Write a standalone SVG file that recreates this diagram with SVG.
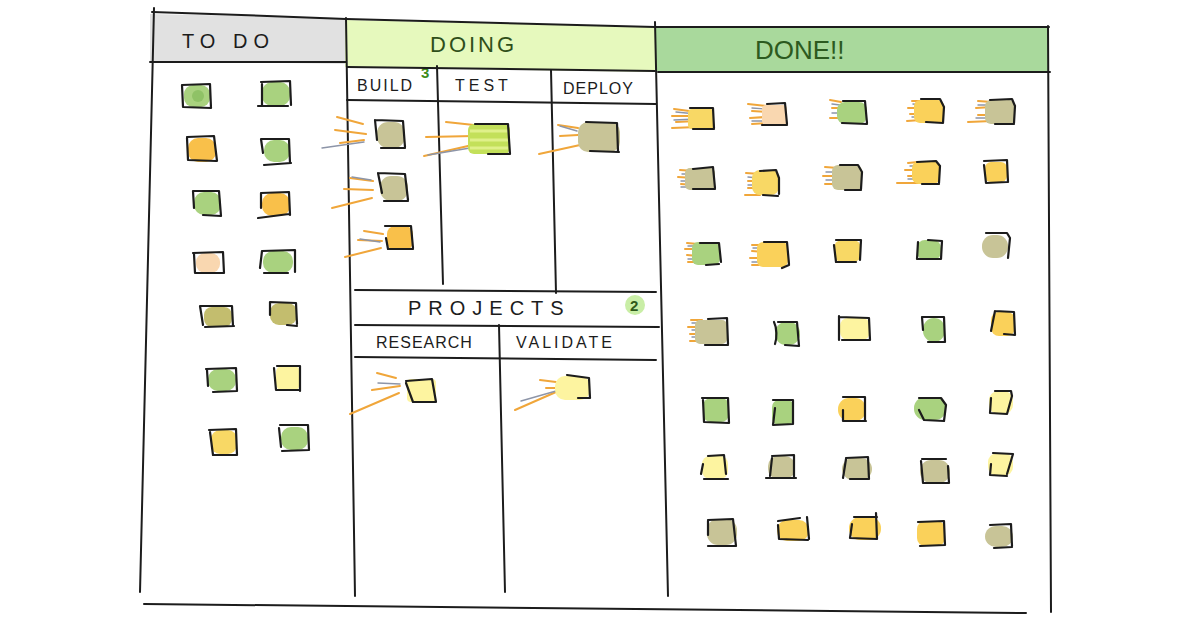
<svg xmlns="http://www.w3.org/2000/svg" width="1200" height="628" viewBox="0 0 1200 628">
<style>
.ln{fill:none;stroke:#1c1c1c;stroke-width:2;stroke-linecap:round;stroke-linejoin:round}
.bx{fill:none;stroke:#1c1c1c;stroke-width:2.2;stroke-linecap:round;stroke-linejoin:round}
.t{font-family:"Liberation Sans",Arial,sans-serif;fill:#1c1c1c;letter-spacing:2px}
.sp{fill:none;stroke:#f0a63a;stroke-width:2;stroke-linecap:round}
.sg{fill:none;stroke:#8d95a8;stroke-width:1.4;stroke-linecap:round}
.g{fill:#a9d27f}.o{fill:#f9c04a}.tn{fill:#c8c497}.pe{fill:#f9d7b0}.ol{fill:#c3bd6e}.py{fill:#fdf4a0}.y{fill:#f8d865}.yo{fill:#fad15a}.lg{fill:#c3e05a}
</style>
<rect width="1200" height="628" fill="#ffffff"/>
<g id="headers">
<polygon points="150,14 345,18 345,64 150,61" fill="#e1e1e1"/>
<polygon points="345,20 655,27 655,72 345,67" fill="#e6f9bd"/>
<polygon points="655,26 1048,27 1048,72 655,71" fill="#a9d99c"/>
<text class="t" x="182" y="48" font-size="20" style="letter-spacing:6px">TO DO</text>
<text class="t" x="430" y="52" font-size="22" style="fill:#2f4f1a;letter-spacing:3px">DOING</text>
<text class="t" x="755" y="59" font-size="26" style="fill:#2c5a20;letter-spacing:0">DONE!!</text>
<text class="t" x="357" y="91" font-size="16" style="letter-spacing:2px">BUILD</text>
<text class="t" x="421" y="78" font-size="15" font-weight="bold" style="fill:#3f8c1a;letter-spacing:0">3</text>
<text class="t" x="455" y="91" font-size="16" style="letter-spacing:4px">TEST</text>
<text class="t" x="563" y="94" font-size="16" style="letter-spacing:1px">DEPLOY</text>
<text class="t" x="408" y="315" font-size="20" style="letter-spacing:7px">PROJECTS</text>
<circle cx="635" cy="305" r="10" fill="#c9eea6"/>
<text class="t" x="630" y="311" font-size="15" font-weight="bold" style="fill:#2f5a1a;letter-spacing:0">2</text>
<text class="t" x="376" y="348" font-size="16" style="letter-spacing:1px">RESEARCH</text>
<text class="t" x="516" y="348" font-size="16" style="letter-spacing:3px">VALIDATE</text>
</g>
<g id="board">
<path class="ln" d="M152 12 Q250 15 346 19 L655 27 L1049 27"/>
<path class="ln" d="M150 62 L346 62 M347 67 L655 71 M658 72 L1050 72"/>
<path class="ln" d="M154 8 L140 592"/>
<path class="ln" d="M346 18 L355 596"/>
<path class="ln" d="M655 22 L668 596"/>
<path class="ln" d="M1048 26 L1051 612"/>
<path class="ln" d="M144 604 L1026 613"/>
<path class="ln" d="M347 100 L656 104"/>
<path class="ln" d="M437 66 L443 284"/>
<path class="ln" d="M551 70 L556 293"/>
<path class="ln" d="M355 290 L656 292"/>
<path class="ln" d="M355 325 L659 327"/>
<path class="ln" d="M355 357 L656 360"/>
<path class="ln" d="M499 325 L505 592"/>
</g>
<g id="todo-cards">
<g id="td1"><rect class="g" x="184" y="85" width="26" height="22" rx="9"/><circle cx="198" cy="96" r="6" fill="#8fc266"/><path class="bx" d="M182 85 L210 84 L211 108 L183 107 Z"/></g>
<g id="td2"><rect class="g" x="262" y="82" width="28" height="24" rx="10"/><path class="bx" d="M261 82 L290 81 L291 105 M288 106 L258 106 M262 84 L262 106"/></g>
<g id="td3"><rect class="o" x="188" y="138" width="28" height="24" rx="10"/><path class="bx" d="M187 137 L214 136 L217 161 M216 161 L188 160 L187 138"/></g>
<g id="td4"><rect class="g" x="264" y="140" width="26" height="22" rx="10"/><path class="bx" d="M261 139 L289 139 L290 163 M291 163 L264 165 M261 139 L263 153"/></g>
<g id="td5"><rect class="g" x="194" y="192" width="27" height="23" rx="10"/><path class="bx" d="M193 191 L219 191 L221 216 M221 216 L203 215 M193 191 L194 208"/></g>
<g id="td6"><rect class="o" x="262" y="193" width="28" height="23" rx="10"/><path class="bx" d="M261 193 L289 192 L290 215 M289 214 L258 218 M261 193 L261 208"/></g>
<g id="td7"><rect class="pe" x="196" y="253" width="24" height="20" rx="9"/><path class="bx" d="M193 253 L223 252 L224 273 M224 273 L195 273 L194 254"/></g>
<g id="td8"><rect class="g" x="263" y="251" width="30" height="22" rx="10"/><path class="bx" d="M262 251 L295 250 L295 272 M288 273 L264 273 M262 251 L260 268"/></g>
<g id="td9"><rect class="ol" x="204" y="307" width="28" height="20" rx="8"/><path class="bx" d="M200 306 L232 306 L233 326 M234 326 L205 327 M200 306 L203 325"/></g>
<g id="td10"><rect class="ol" x="270" y="303" width="27" height="22" rx="9"/><path class="bx" d="M270 302 L296 303 L297 324 M297 326 L287 325 M270 302 L270 315"/></g>
<g id="td11"><rect class="g" x="208" y="369" width="28" height="22" rx="10"/><path class="bx" d="M206 369 L236 368 L237 391 M237 391 L213 392 M207 370 L208 386"/></g>
<g id="td12"><rect class="py" x="276" y="366" width="24" height="24" rx="6"/><path class="bx" d="M277 366 L300 366 L300 391 M300 390 L276 390 L274 368"/></g>
<g id="td13"><rect class="y" x="211" y="430" width="26" height="24" rx="9"/><path class="bx" d="M209 430 L236 429 L237 455 M236 455 L213 455 L210 432"/></g>
<g id="td14"><rect class="g" x="281" y="427" width="27" height="23" rx="10"/><path class="bx" d="M280 425 L308 425 L309 450 M309 450 L282 451 M279 428 L281 447"/></g>
</g>
<g id="build-cards">
<g id="b1"><path class="sp" d="M337 117 L363 124 M335 130 L366 134 M340 143 L364 140"/><path class="sg" d="M322 148 L364 142"/><rect class="tn" x="377" y="122" width="28" height="26" rx="11"/><path class="bx" d="M375 120 L403 121 L405 147 M405 148 L381 148 M375 120 L377 140"/></g>
<g id="b2"><path class="sp" d="M350 178 L373 181 M344 189 L373 190 M332 208 L372 198"/><path class="sg" d="M352 177 L371 180"/><rect class="tn" x="380" y="176" width="28" height="25" rx="11"/><path class="bx" d="M378 173 L405 174 L408 200 M408 201 L384 201 M378 173 L382 193"/></g>
<g id="b3"><path class="sp" d="M364 231 L383 234 M358 240 L382 241 M345 257 L381 248"/><path class="sg" d="M360 239 L380 242"/><rect class="o" x="387" y="226" width="26" height="24" rx="8"/><path class="bx" d="M385 226 L411 226 L413 248 M413 249 L388 249 L386 238"/></g>
</g>
<g id="test-card">
<path class="sp" d="M446 122 L474 125 M426 137 L474 136 M424 156 L468 146"/>
<path class="sg" d="M428 155 L470 148"/>
<rect class="lg" x="468" y="124" width="42" height="30" rx="6"/>
<path d="M470 131 H508 M470 140 H508 M470 148 H508" stroke="#dff08a" stroke-width="3"/>
<path class="bx" d="M475 124 L508 124 L510 154 M510 154 L488 154"/>
</g>
<g id="deploy-card">
<path class="sp" d="M558 125 L578 128 M560 136 L578 135 M539 154 L580 145"/>
<path class="sg" d="M560 126 L577 131"/>
<rect class="tn" x="578" y="122" width="42" height="30" rx="10"/>
<path class="bx" d="M586 122 L617 123 L618 151 M619 152 L590 151"/>
</g>
<g id="research-card">
<path class="sp" d="M377 373 L396 378 M372 390 L400 386 M350 414 L399 393"/>
<path class="sg" d="M378 383 L400 384"/>
<rect class="py" x="407" y="379" width="29" height="23" rx="4"/>
<path class="bx" d="M406 381 L432 379 L436 402 M436 402 L413 402 L406 383"/>
</g>
<g id="validate-card">
<path class="sp" d="M540 380 L556 382 M546 388 L556 388 M515 410 L556 392"/>
<path class="sg" d="M521 401 L556 391"/>
<rect class="py" x="555" y="376" width="35" height="24" rx="10"/>
<path class="bx" d="M567 375 L589 378 L590 398 M590 398 L578 398"/>
</g>
<g id="done-cards">
<g id="d1"><path class="sp" d="M674 109 L697 112 M672 116 L697 116 M676 122 L697 121 M672 128 L697 127"/><path class="sg" d="M676 112 L696 114 M674 120 L696 119"/><rect class="y" x="688" y="109" width="26" height="20" rx="4"/><path class="bx" d="M690 108 L713 108 L714 128 M714 129 L693 129"/></g>
<g id="d2"><path class="sp" d="M748 104 L767 106 M752 111 L767 112 M750 118 L766 117 M752 124 L768 123"/><path class="sg" d="M752 108 L766 109 M752 121 L766 121"/><rect class="pe" x="762" y="105" width="25" height="20" rx="4"/><path class="bx" d="M767 104 L785 103 L787 124 M787 125 L762 125"/></g>
<g id="d3"><path class="sp" d="M830 100 L841 102 M832 108 L842 108 M830 118 L842 118"/><path class="sg" d="M832 104 L840 105 M832 113 L841 113"/><rect class="g" x="837" y="102" width="30" height="22" rx="8"/><path class="bx" d="M843 101 L865 101 L867 123 M867 124 L842 123"/></g>
<g id="d4"><path class="sp" d="M912 101 L921 101 M908 108 L922 108 M910 114 L922 114 M907 121 L921 120"/><path class="sg" d="M913 104 L921 105 M912 117 L921 117"/><rect class="yo" x="914" y="100" width="30" height="23" rx="6"/><path class="bx" d="M921 99 L940 99 L944 107 L943 123 M943 123 L926 122"/></g>
<g id="d5"><path class="sp" d="M978 101 L992 102 M976 108 L992 107 M978 115 L992 115 M968 122 L992 121"/><path class="sg" d="M978 105 L990 105 M976 118 L990 118"/><rect class="tn" x="985" y="100" width="30" height="24" rx="6"/><path class="bx" d="M990 100 L1012 99 L1015 106 L1014 123 M1014 124 L995 124"/></g>
<g id="d6"><path class="sp" d="M680 170 L694 171 M678 177 L694 178 M681 184 L694 185"/><path class="sg" d="M682 174 L694 174 M681 181 L694 181 M681 187 L694 187"/><rect class="tn" x="685" y="168" width="30" height="22" rx="5"/><path class="bx" d="M693 169 L713 167 L715 188 M715 189 L693 189"/></g>
<g id="d7"><path class="sp" d="M746 173 L760 174 M748 181 L760 181 M748 188 L760 188 M745 195 L760 195"/><path class="sg" d="M748 177 L758 178 M748 185 L758 185"/><rect class="y" x="752" y="170" width="27" height="25" rx="8"/><path class="bx" d="M760 171 L776 170 L779 178 L779 194 M778 196 L763 195"/></g>
<g id="d8"><path class="sp" d="M825 167 L838 168 M823 176 L838 176 M825 184 L838 184"/><path class="sg" d="M826 172 L838 172 M826 180 L838 180"/><rect class="tn" x="832" y="165" width="30" height="25" rx="6"/><path class="bx" d="M840 165 L858 165 L862 172 L861 189 M861 190 L845 190"/></g>
<g id="d9"><path class="sp" d="M908 163 L918 162 M905 170 L918 170 M908 176 L918 176 M897 183 L918 183"/><path class="sg" d="M910 166 L918 166 M908 179 L918 179"/><rect class="yo" x="912" y="161" width="28" height="23" rx="7"/><path class="bx" d="M917 162 L936 161 L940 166 L939 183 M939 184 L922 184"/></g>
<g id="d10"><rect class="yo" x="985" y="162" width="22" height="20" rx="6"/><path class="bx" d="M984 161 L1007 160 L1008 182 M1007 182 L986 183 L984 165"/></g>
<g id="d11"><path class="sp" d="M687 243 L698 244 M685 249 L698 249 M687 255 L698 256 M688 262 L698 262"/><path class="sg" d="M688 246 L698 246 M688 259 L698 259"/><rect class="g" x="692" y="242" width="28" height="23" rx="6"/><path class="bx" d="M700 243 L719 243 L721 262 M719 264 L706 265"/></g>
<g id="d12"><path class="sp" d="M752 245 L765 245 M752 251 L765 252 M750 258 L765 258 M752 265 L765 265"/><path class="sg" d="M753 248 L764 248 M752 262 L764 262"/><rect class="yo" x="757" y="242" width="31" height="25" rx="6"/><path class="bx" d="M764 242 L787 242 L789 264 M789 265 L782 268"/></g>
<g id="d13"><rect class="y" x="834" y="240" width="27" height="22" rx="8"/><path class="bx" d="M836 240 L861 240 L860 260 M856 262 L836 262 L834 245"/></g>
<g id="d14"><rect class="g" x="917" y="240" width="24" height="20" rx="8"/><path class="bx" d="M918 242 L917 259 M917 259 L941 259 L942 241 L928 240"/></g>
<g id="d15"><rect class="tn" x="982" y="235" width="26" height="23" rx="11"/><path class="bx" d="M986 233 L1007 233 L1010 238 L1008 258"/></g>
<g id="d16"><path class="sp" d="M691 320 L702 320 M688 327 L702 327 M690 334 L702 334 M690 341 L702 341"/><path class="sg" d="M692 323 L702 323 M692 330 L702 330 M692 337 L702 337"/><rect class="tn" x="695" y="320" width="32" height="24" rx="5"/><path class="bx" d="M708 319 L727 318 L728 344 M728 345 L705 345"/></g>
<g id="d17"><rect class="g" x="775" y="322" width="25" height="23" rx="11"/><path class="bx" d="M774 322 C777 328 777 338 775 344 M778 322 L797 322 L799 346 M799 346 L785 345"/></g>
<g id="d18"><rect class="py" x="840" y="318" width="30" height="22" rx="8"/><path class="bx" d="M839 316 L839 340 M839 317 L869 318 L870 340 M870 340 L842 340"/></g>
<g id="d19"><rect class="g" x="923" y="318" width="22" height="24" rx="11"/><path class="bx" d="M922 317 L944 317 L945 342 M945 342 L928 342 M922 317 L923 330"/></g>
<g id="d20"><rect class="yo" x="991" y="312" width="24" height="24" rx="8"/><path class="bx" d="M995 311 L1014 312 L1015 335 M1015 335 L1004 334 M995 311 L991 331"/></g>
<g id="d21"><rect class="g" x="703" y="398" width="26" height="24" rx="8"/><path class="bx" d="M702 398 L728 398 L729 423 M729 423 L704 422 L703 400"/></g>
<g id="d22"><rect class="g" x="772" y="400" width="22" height="25" rx="7"/><path class="bx" d="M773 400 L793 400 L793 424 M793 424 L773 425 L775 408"/></g>
<g id="d23"><rect class="yo" x="838" y="398" width="28" height="23" rx="11"/><path class="bx" d="M843 397 L865 397 L865 420 M866 421 L843 421 L843 410"/></g>
<g id="d24"><rect class="g" x="914" y="397" width="32" height="23" rx="11"/><path class="bx" d="M919 398 L941 398 L946 405 L944 421 M944 421 L924 420 L919 410"/></g>
<g id="d25"><rect class="py" x="989" y="391" width="24" height="23" rx="9"/><path class="bx" d="M995 391 L1011 391 L1012 396 L1007 414 M1007 414 L990 413 L991 398"/></g>
<g id="d26"><rect class="py" x="702" y="456" width="26" height="23" rx="8"/><path class="bx" d="M708 456 L724 455 L726 474 M728 479 L704 479 M703 464 L701 474"/></g>
<g id="d27"><rect class="tn" x="768" y="456" width="27" height="23" rx="10"/><path class="bx" d="M772 456 L794 455 L794 478 M796 478 L766 478 M772 458 L770 476"/></g>
<g id="d28"><rect class="tn" x="842" y="458" width="30" height="22" rx="11"/><path class="bx" d="M846 458 L868 457 L869 479 M869 479 L850 479 M846 459 L843 478"/></g>
<g id="d29"><rect class="tn" x="920" y="460" width="30" height="23" rx="11"/><path class="bx" d="M922 459 L946 459 M921 461 L923 483 M923 483 L949 483 L948 466"/></g>
<g id="d30"><rect class="py" x="988" y="453" width="25" height="23" rx="9"/><path class="bx" d="M993 453 L1013 454 L1007 474 M1007 476 L990 475 L991 464"/></g>
<g id="d31"><rect class="tn" x="707" y="519" width="30" height="26" rx="11"/><path class="bx" d="M708 520 L733 519 L736 546 M736 546 L708 546 M708 521 L708 535"/></g>
<g id="d32"><rect class="yo" x="777" y="520" width="32" height="21" rx="10"/><path class="bx" d="M778 521 L800 518 M807 517 L809 539 M808 540 L779 539 L778 525"/></g>
<g id="d33"><rect class="yo" x="849" y="517" width="32" height="23" rx="11"/><path class="bx" d="M854 517 L877 517 M876 513 L877 539 M877 539 L850 538 L852 524"/></g>
<g id="d34"><rect class="yo" x="917" y="521" width="28" height="25" rx="8"/><path class="bx" d="M918 522 L944 521 L945 545 M945 545 L920 546"/></g>
<g id="d35"><rect class="tn" x="985" y="526" width="28" height="21" rx="11"/><path class="bx" d="M990 525 L1011 524 L1012 546 M1012 547 L994 548"/></g>
</g>
</svg>
